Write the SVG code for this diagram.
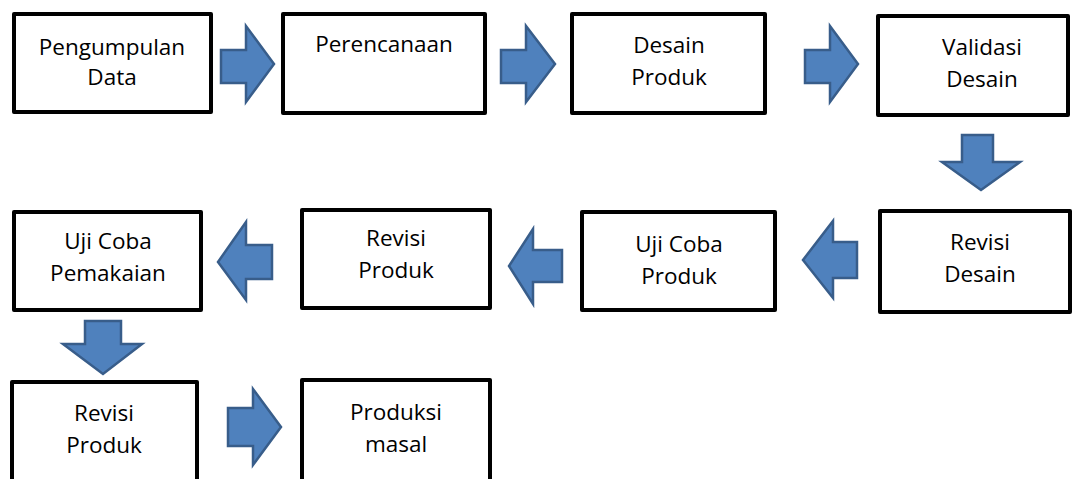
<svg xmlns="http://www.w3.org/2000/svg" width="1075" height="479" viewBox="0 0 1075 479">
<style>
.box{fill:#fff;stroke:#000;stroke-width:4;stroke-linejoin:round}
.t{font-family:"Open Sans","Liberation Sans",sans-serif;font-size:22.5px;fill:#000;text-anchor:middle}
.ar{fill:#4F81BD;stroke:#385D8A;stroke-width:2.5;stroke-linejoin:miter}
</style>
<rect width="1075" height="479" fill="#fff"/>
<g id="connectors">
<polygon class="ar" points="221,50 246,50 246,26 274,64 246,102 246,83 221,83"/>
<polygon class="ar" points="501,50 526,50 526,26 555,64 526,102 526,83 501,83"/>
<polygon class="ar" points="805,50 830,50 830,26 858,64 830,102 830,83 805,83"/>
<polygon class="ar" points="962,135 993,135 993,162 1020,162 981,190 942,162 962,162"/>
<polygon class="ar" points="857,242 833,242 833,221 803,260 833,298 833,278 857,278"/>
<polygon class="ar" points="562,250 533,250 533,229 509,266 533,304 533,282 562,282"/>
<polygon class="ar" points="272,245 246,245 246,222 218,262 246,300 246,279 272,279"/>
<polygon class="ar" points="85,321 121,321 121,344 142,344 103,374 63,344 85,344"/>
<polygon class="ar" points="228,408 253,408 253,389 281,427 253,465 253,446 228,446"/>
</g>
<g id="n1"><rect class="box" x="14" y="14" width="197" height="98"/><text class="t" x="112" y="55">Pengumpulan</text><text class="t" x="112" y="85">Data</text></g>
<g id="n2"><rect class="box" x="283" y="14" width="202" height="99"/><text class="t" x="384" y="52">Perencanaan</text></g>
<g id="n3"><rect class="box" x="572" y="14" width="193" height="99"/><text class="t" x="669" y="53">Desain</text><text class="t" x="669" y="85">Produk</text></g>
<g id="n4"><rect class="box" x="878" y="16" width="190" height="99"/><text class="t" x="982" y="55">Validasi</text><text class="t" x="982" y="87">Desain</text></g>
<g id="n5"><rect class="box" x="880" y="211" width="190" height="101"/><text class="t" x="980" y="250">Revisi</text><text class="t" x="980" y="282">Desain</text></g>
<g id="n6"><rect class="box" x="582" y="212" width="193" height="98"/><text class="t" x="679" y="252">Uji Coba</text><text class="t" x="679" y="284">Produk</text></g>
<g id="n7"><rect class="box" x="302" y="210" width="188" height="98"/><text class="t" x="396" y="246">Revisi</text><text class="t" x="396" y="278">Produk</text></g>
<g id="n8"><rect class="box" x="14" y="212" width="187" height="98"/><text class="t" x="108" y="249">Uji Coba</text><text class="t" x="108" y="281">Pemakaian</text></g>
<g id="n9"><rect class="box" x="12" y="382" width="185" height="110"/><text class="t" x="104" y="421">Revisi</text><text class="t" x="104" y="453">Produk</text></g>
<g id="n10"><rect class="box" x="302" y="380" width="188" height="112"/><text class="t" x="396" y="420">Produksi</text><text class="t" x="396" y="452">masal</text></g>
</svg>
